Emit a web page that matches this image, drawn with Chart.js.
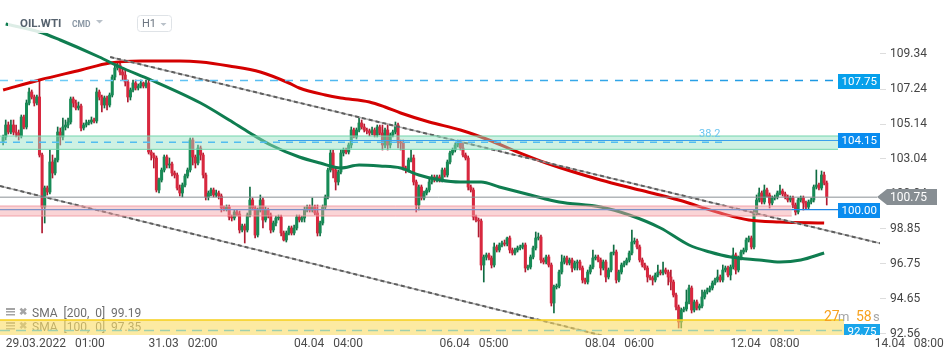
<!DOCTYPE html>
<html>
<head>
<meta charset="utf-8">
<script src="https://cdn.jsdelivr.net/npm/chart.js@4.4.1/dist/chart.umd.min.js"></script>
<style>
  html, body { margin: 0; padding: 0; background: #fff; overflow: hidden; }
</style>
</head>
<body>
<canvas id="chart" width="950" height="360"></canvas>
<script>
// OIL.WTI, H1 candles (open = previous close)
const firstOpen = 104.06;
const closes = [
  104.36,105.08,104.66,105.08,104.66,104.60,104.42,105.56,104.96,106.40,
  107.06,106.76,106.40,106.76,103.28,100.16,101.30,101.06,102.86,102.20,
  102.98,104.66,104.36,104.96,105.08,105.26,106.64,106.40,106.10,106.22,
  104.90,105.08,105.20,105.26,105.38,105.32,107.06,106.76,106.28,106.70,
  106.28,106.88,107.96,108.50,108.68,108.26,108.08,107.66,106.76,107.18,
  107.60,107.30,107.42,107.60,107.42,107.60,103.46,103.28,103.10,101.18,
  101.78,102.38,103.16,102.68,102.74,102.20,102.08,101.30,101.00,101.48,
  102.02,102.38,104.18,103.16,102.80,103.70,103.28,102.08,100.76,101.00,
  101.18,100.88,101.00,100.82,100.10,100.04,100.16,99.56,99.50,99.86,
  99.74,98.78,99.02,98.78,99.68,100.58,100.10,98.48,99.98,100.58,
  99.38,99.98,99.68,98.78,99.20,99.50,99.56,98.60,98.18,98.60,
  98.90,98.60,98.90,99.56,99.38,99.50,99.98,100.16,99.98,100.16,
  99.80,98.60,99.20,100.16,100.76,102.38,103.40,102.38,101.66,102.26,
  103.40,103.58,103.46,103.88,104.78,104.36,104.78,105.20,104.96,104.78,
  104.72,104.60,104.78,104.48,104.96,104.60,103.88,104.78,103.88,104.48,
  104.66,105.08,104.06,104.00,102.50,102.38,102.98,103.10,101.66,100.28,
  101.36,100.70,101.00,101.18,101.66,101.96,101.78,101.96,101.78,102.38,
  102.08,102.86,103.40,103.58,103.88,104.06,103.70,103.28,103.10,101.36,
  101.18,99.56,99.38,99.32,96.68,97.16,97.28,97.10,96.68,97.76,
  97.58,97.88,98.00,97.94,98.30,97.58,97.40,97.58,97.70,97.76,
  97.88,96.50,96.56,97.16,97.70,98.30,98.36,96.98,96.86,97.16,
  96.68,94.40,95.36,95.42,96.26,96.86,97.10,96.80,96.98,96.50,
  96.80,96.86,96.50,95.78,95.66,96.26,96.56,97.10,97.16,96.98,
  96.50,96.86,95.96,96.38,97.40,97.46,95.78,96.26,96.68,96.80,
  96.98,97.40,98.06,98.12,97.76,96.98,96.68,96.50,95.96,95.90,
  95.78,96.08,96.26,96.20,96.38,96.26,95.96,95.66,94.88,94.16,
  93.26,93.98,94.04,94.46,95.30,93.98,94.46,94.10,94.22,94.76,
  95.06,95.18,95.30,95.60,95.78,95.96,95.78,96.38,96.50,96.08,
  96.56,97.28,96.38,97.10,97.46,97.58,98.18,98.30,97.76,99.80,
  100.58,101.00,100.46,101.18,100.88,100.40,100.70,100.76,101.00,101.12,
  100.94,100.76,100.58,100.70,100.28,99.86,100.58,100.70,100.40,100.16,
  100.46,100.58,101.36,101.48,101.30,102.08,101.60,100.76
];
const highs = [
  104.48,105.38,105.26,105.38,105.38,105.08,104.78,105.68,105.68,106.58,
  107.30,107.18,106.88,106.88,107.78,103.40,101.42,101.42,103.58,103.28,
  103.10,104.96,104.90,105.50,105.38,105.50,106.76,106.76,106.58,106.46,
  106.34,105.20,105.38,105.38,105.56,105.50,107.30,107.18,106.88,106.82,
  106.82,107.00,108.08,108.68,108.86,108.86,108.50,108.38,107.78,107.30,
  107.78,107.78,107.54,107.78,107.66,107.78,107.78,103.58,103.40,103.22,
  101.90,102.50,103.28,103.28,103.10,102.86,102.32,102.20,101.48,101.60,
  102.14,102.50,104.30,104.30,103.28,103.88,103.82,103.40,102.20,101.12,
  101.30,101.30,101.18,101.12,100.94,100.22,100.28,100.28,99.68,99.98,
  99.98,99.92,99.14,99.14,99.80,101.36,100.70,100.22,100.10,100.88,
  100.70,100.16,100.10,99.80,99.32,99.62,99.68,99.68,98.72,98.72,
  99.02,99.02,99.08,99.68,99.68,99.62,100.16,100.28,100.28,100.70,
  100.28,100.28,99.32,100.28,100.88,102.50,103.58,103.58,102.50,102.38,
  103.58,103.70,103.70,104.00,104.96,104.90,104.90,105.56,105.38,105.14,
  104.90,104.84,104.96,104.90,105.08,105.08,105.08,104.90,105.14,104.60,
  104.78,105.26,105.20,104.18,104.18,102.62,103.10,103.58,103.28,101.78,
  101.48,101.48,101.12,101.30,101.90,102.08,102.08,102.08,102.08,102.50,
  102.50,102.98,103.52,103.70,104.00,104.18,104.18,104.06,103.40,103.22,
  101.48,101.30,99.68,99.50,99.44,97.28,97.40,97.40,97.22,98.00,
  97.88,98.00,98.12,98.18,98.36,98.42,97.70,97.70,97.82,97.88,
  98.00,98.00,96.68,97.28,97.82,98.66,98.60,98.48,97.10,97.28,
  97.28,96.80,95.48,95.54,96.38,97.28,97.22,97.22,97.10,97.10,
  96.92,96.98,96.98,96.62,95.90,96.38,96.68,97.58,97.28,97.28,
  97.10,96.98,96.98,96.50,97.46,97.88,97.58,96.38,96.80,96.92,
  97.10,97.52,98.78,98.30,98.24,97.88,97.10,96.80,96.62,96.08,
  96.02,96.20,96.68,96.38,96.86,96.50,96.38,96.38,95.78,95.00,
  94.28,94.10,94.16,95.18,95.48,95.42,94.58,94.58,94.34,95.18,
  95.18,95.30,95.42,95.72,95.90,96.38,96.08,96.68,96.62,96.62,
  96.68,97.70,97.40,97.22,97.58,97.70,98.30,98.42,98.42,99.98,
  100.88,101.30,101.12,101.48,101.30,101.00,100.82,100.88,101.12,101.48,
  101.24,101.06,100.88,100.82,100.82,100.40,100.70,100.82,100.82,100.52,
  100.58,100.70,101.48,102.38,101.60,102.32,102.26,101.72
];
const lows = [
  103.88,104.18,104.54,104.54,104.48,104.36,104.18,104.30,104.84,104.84,
  106.28,106.64,106.22,106.28,103.16,98.60,99.20,100.88,100.94,101.90,
  102.08,102.86,103.88,104.18,104.78,104.90,105.14,106.16,105.98,105.98,
  104.72,104.78,104.96,105.08,105.14,105.20,105.20,106.58,105.86,106.10,
  105.98,106.16,106.76,107.78,108.38,108.08,107.78,107.42,106.46,106.58,
  107.06,107.18,107.18,107.30,107.30,107.30,103.34,102.98,102.50,101.06,
  101.00,101.66,102.26,102.50,102.50,102.02,101.90,101.18,100.82,100.76,
  101.36,101.90,102.26,102.68,102.50,102.68,102.98,101.90,100.58,100.58,
  100.82,100.76,100.76,100.64,99.86,99.92,99.92,99.38,99.32,99.38,
  99.62,98.60,98.66,98.00,98.66,99.56,99.98,98.30,98.36,99.86,
  98.90,99.26,99.50,98.60,98.66,99.02,99.38,98.42,98.12,98.06,
  98.48,98.48,98.48,98.78,99.26,99.26,99.26,99.86,99.86,99.86,
  99.68,98.42,98.42,99.08,100.04,100.64,102.26,101.90,101.18,101.48,
  102.14,103.22,103.34,103.34,103.70,104.30,104.24,104.66,104.84,104.66,
  104.54,104.42,104.48,104.36,104.36,104.48,103.58,103.70,103.58,103.70,
  104.36,104.54,103.70,103.58,102.38,102.20,102.26,102.86,101.48,99.86,
  99.98,100.58,100.58,100.88,101.06,101.54,101.66,101.66,101.66,101.66,
  101.96,101.96,102.74,103.28,103.46,103.76,103.58,103.16,102.98,101.18,
  101.06,99.38,99.26,98.36,96.38,95.66,96.98,96.98,96.50,96.56,
  97.46,97.46,97.76,97.82,97.82,97.40,97.28,97.28,97.46,97.58,
  97.64,96.26,96.38,96.44,97.04,97.58,98.18,96.80,96.74,96.74,
  96.56,94.22,93.80,95.24,95.30,96.14,96.74,96.68,96.68,96.26,
  96.38,96.38,96.38,95.60,95.54,95.54,96.14,96.44,96.98,96.86,
  96.08,96.38,95.66,95.84,96.26,97.28,95.60,95.66,96.14,96.56,
  96.68,96.86,97.28,97.94,97.64,96.86,96.56,96.38,95.66,95.78,
  95.48,95.66,95.96,96.08,96.08,96.14,95.48,95.18,94.76,93.98,
  92.90,92.90,93.86,93.92,94.34,93.80,93.86,93.98,93.98,94.10,
  94.64,94.94,95.06,95.18,95.48,95.66,95.66,95.66,96.26,95.96,
  95.78,96.44,96.14,96.26,96.98,97.34,97.46,98.06,97.64,97.64,
  99.68,100.46,100.34,100.34,100.76,100.10,100.28,100.58,100.64,100.88,
  100.82,100.64,100.46,100.46,100.10,99.68,99.74,100.46,99.98,100.04,
  100.04,100.34,100.46,101.24,101.18,101.18,101.48,100.28
];

// moving averages, sampled along the curve (candle index -> value)
const sma100Idx = [1, 14, 22, 37, 45, 57, 76, 87, 95, 103, 114, 122, 130, 137, 145, 153, 160, 168, 176, 184, 191, 203, 214, 230, 241, 253, 264, 272, 280, 291, 299, 307, 316];
const sma100 = [111.14, 110.66, 110.18, 109.16, 108.56, 107.78, 106.40, 105.38, 104.60, 103.88, 103.16, 102.80, 102.50, 102.68, 102.62, 102.50, 102.08, 101.78, 101.66, 101.66, 101.36, 100.88, 100.46, 100.16, 99.68, 98.90, 97.88, 97.46, 97.16, 96.98, 96.86, 96.98, 97.40];
const sma200Idx = [0, 14, 30, 41, 53, 68, 76, 87, 99, 110, 114, 124, 130, 141, 147, 153, 164, 176, 187, 198, 209, 230, 245, 260, 276, 287, 299, 316];
const sma200 = [107.18, 107.78, 108.38, 108.80, 108.92, 108.92, 108.86, 108.62, 108.26, 107.60, 107.30, 106.88, 106.70, 106.46, 106.16, 105.80, 105.26, 104.78, 104.18, 103.46, 102.80, 101.78, 101.18, 100.58, 99.80, 99.38, 99.26, 99.20];

// channel lines [index, price]
const upperTrend = [[41.2, 109.16], [337.5, 97.98]];
const lowerTrend = [[-1.2, 101.42], [252.7, 91.59]];

const timeIdx = [1, 56, 112, 168, 224, 280, 335.5];
const timeLabels = ["29.03.2022   01:00", "31.03   02:00", "04.04   04:00", "06.04   05:00", "08.04   06:00", "12.04   08:00", "14.04   08:00"];
const priceTicks = [109.34, 107.24, 105.14, 103.04, 100.94, 98.85, 96.75, 94.65, 92.56];

// zones and levels
const greenZone = [103.62, 104.42];
const redZone = [99.62, 100.22];
const redZoneEnd = 303.5;
const yellowZone = [92.2, 93.38];
const resistance = 107.75;
const zoneLevel = 104.15;
const zoneLevelStart = 105.8;
const fibPrice = 104.04;
const fibEnd = 278.6;
const fibTextIdx = 272;
const fibLabel = "38.2";
const support = 100.00;
const lowLevel = 92.75;
const lastPrice = 100.75;
const smaLegend = ["SMA  [200,  0]  99.19", "SMA  [100,  0]  97.35"];
const timer = ["27", "m", "58", "s"];

Chart.defaults.font.family = "Roboto";
Chart.defaults.font.size = 12;

const opens = [firstOpen, ...closes.slice(0, -1)];
const up = closes.map((c, i) => c >= opens[i]);
const bodyColor = up.map(u => (u ? "#178b56" : "#d8283f"));
const wickColor = up.map(u => (u ? "#0f6c42" : "#b01a30"));

function hline(ctx, x1, x2, y, color, width, dash) {
  ctx.save();
  ctx.strokeStyle = color;
  ctx.lineWidth = width;
  ctx.setLineDash(dash || []);
  ctx.beginPath();
  ctx.moveTo(x1, y);
  ctx.lineTo(x2, y);
  ctx.stroke();
  ctx.restore();
}

function tagWidth(ctx, text) {
  ctx.font = "11.5px Roboto";
  return Math.round(ctx.measureText(text).width + 7);
}

function tag(ctx, text, right, y, bg) {
  const w = tagWidth(ctx, text);
  const yy = Math.round(y);
  ctx.fillStyle = bg;
  ctx.fillRect(right - w, yy - 7, w, 15);
  ctx.fillStyle = "#fff";
  ctx.textAlign = "left";
  ctx.textBaseline = "middle";
  ctx.fillText(text, right - w + 3.5, yy + 1);
}

function zone(ctx, x1, x2, yTop, yBot, fill, edge) {
  ctx.fillStyle = fill;
  ctx.fillRect(x1, yTop, x2 - x1, yBot - yTop);
  hline(ctx, x1, x2, yTop, edge, 1);
  hline(ctx, x1, x2, yBot, edge, 1);
}

function triangle(ctx, x, y, w, color) {
  ctx.fillStyle = color;
  ctx.beginPath();
  ctx.moveTo(x, y);
  ctx.lineTo(x + w, y);
  ctx.lineTo(x + w / 2, y + w / 2);
  ctx.closePath();
  ctx.fill();
}

const overlay = {
  id: "overlay",
  afterDatasetsDraw(chart) {
    const { ctx, chartArea: a, scales } = chart;
    const X = v => scales.x.getPixelForValue(v);
    const Y = v => scales.y.getPixelForValue(v);
    ctx.save();

    // indicator legend, bottom left
    smaLegend.forEach((t, i) => {
      const ly = a.bottom - 22 + i * 14;
      ctx.fillStyle = "#a4a4a4";
      ctx.fillRect(6, ly - 5, 9, 2);
      ctx.fillRect(6, ly - 2, 9, 1.5);
      ctx.fillRect(6, ly + 1, 9, 1.5);
      ctx.font = "bold 10px Roboto";
      ctx.textBaseline = "middle";
      ctx.textAlign = "left";
      ctx.fillText("\u2716", 19, ly - 1);
      ctx.fillStyle = "#6e6e6e";
      ctx.font = "12px Roboto";
      ctx.fillText(t, 32, ly + 1);
    });

    ctx.save();
    ctx.beginPath();
    ctx.rect(a.left, a.top, a.right - a.left, a.bottom - a.top);
    ctx.clip();

    const supRight = a.right - tagWidth(ctx, "100.00");
    hline(ctx, a.left, supRight, Y(support), "#1d88e6", 1.4);

    zone(ctx, a.left, X(redZoneEnd), Y(redZone[1]), Y(redZone[0]), "rgba(245,160,165,0.45)", "rgba(240,150,160,0.85)");
    const greenRight = a.right - tagWidth(ctx, "104.15");
    zone(ctx, a.left, greenRight, Y(greenZone[1]), Y(greenZone[0]), "rgba(150,225,195,0.47)", "rgba(110,212,170,0.95)");
    const lowRight = a.right - tagWidth(ctx, "92.75");
    ctx.fillStyle = "rgba(250,220,100,0.6)";
    ctx.fillRect(a.left, Y(yellowZone[1]), lowRight - a.left, Y(yellowZone[0]) - Y(yellowZone[1]));
    hline(ctx, a.left, lowRight, Y(yellowZone[1]), "#f6cf1a", 1.5);

    // resistance dashed line, lighter on the left
    const resRight = a.right - tagWidth(ctx, "107.75");
    const grad = ctx.createLinearGradient(a.left, 0, resRight, 0);
    grad.addColorStop(0, "#74cff8");
    grad.addColorStop(1, "#1a97e2");
    hline(ctx, a.left, resRight, Y(resistance), grad, 1.6, [8, 7]);

    hline(ctx, a.left, X(fibEnd), Y(fibPrice), "#52bdf0", 1.5, [7, 6]);
    hline(ctx, X(zoneLevelStart), greenRight, Y(zoneLevel), "#3a9fec", 1);
    hline(ctx, a.left, a.right - 3, Y(lastPrice), "#8a9095", 1);
    hline(ctx, a.left, lowRight, Y(lowLevel), "#9fcfae", 1.5, [10, 6]);

    ctx.fillStyle = "#6cc5f0";
    ctx.font = "11px Roboto";
    ctx.textAlign = "center";
    ctx.textBaseline = "alphabetic";
    ctx.fillText(fibLabel, X(fibTextIdx), Y(greenZone[1]) + 1);

    tag(ctx, resistance.toFixed(2), a.right, Y(resistance), "#06a0eb");
    tag(ctx, zoneLevel.toFixed(2), a.right, Y(zoneLevel), "#0a8cef");
    tag(ctx, support.toFixed(2), a.right, Y(support), "#0a8cef");
    tag(ctx, lowLevel.toFixed(2), a.right, Y(lowLevel), "#19a5ea");
    ctx.restore();

    // last price arrow over the axis
    const yp = Math.round(Y(lastPrice));
    ctx.fillStyle = "#878e93";
    ctx.beginPath();
    ctx.moveTo(a.right - 3, yp);
    ctx.lineTo(a.right + 7, yp - 8);
    ctx.lineTo(a.right + 57, yp - 8);
    ctx.lineTo(a.right + 57, yp + 8);
    ctx.lineTo(a.right + 7, yp + 8);
    ctx.closePath();
    ctx.fill();
    ctx.fillStyle = "#fff";
    ctx.font = "12px Roboto";
    ctx.textAlign = "left";
    ctx.textBaseline = "middle";
    ctx.fillText(lastPrice.toFixed(2), a.right + 10, yp + 1);

    // candle countdown
    ctx.textBaseline = "alphabetic";
    const tx = [a.right - 56, a.right - 42, a.right - 24, a.right - 7];
    timer.forEach((t, i) => {
      ctx.fillStyle = i % 2 === 0 ? "#f7a11c" : "#a6a6a6";
      ctx.font = i % 2 === 0 ? "14px Roboto" : "13px Roboto";
      ctx.fillText(t, tx[i], Y(yellowZone[1]) + 1);
    });

    // header
    ctx.fillStyle = "rgba(255,255,255,0.86)";
    ctx.fillRect(8, 8, 170, 25);
    ctx.fillStyle = "#56626e";
    ctx.font = "bold 11.5px Roboto";
    ctx.fillText("OIL.WTI", 20, 27);
    ctx.fillStyle = "#8a97a4";
    ctx.font = "bold 8.5px Roboto";
    ctx.fillText("CMD", 72, 27);
    triangle(ctx, 96, 20, 7, "#b9c1c9");
    ctx.fillStyle = "#fff";
    ctx.strokeStyle = "#dfe3e7";
    ctx.lineWidth = 1;
    ctx.beginPath();
    ctx.roundRect(137.5, 15.5, 34, 16, 3);
    ctx.fill();
    ctx.stroke();
    ctx.fillStyle = "#6b7580";
    ctx.font = "11px Roboto";
    ctx.fillText("H1", 142, 27);
    triangle(ctx, 160.5, 23, 6, "#b9c1c9");

    ctx.restore();
  }
};

new Chart(document.getElementById("chart"), {
  type: "bar",
  data: {
    datasets: [
      {
        type: "line",
        data: upperTrend.map(p => ({ x: p[0], y: p[1] })),
        borderColor: "#5e5e5e",
        borderWidth: 2,
        borderDash: [4, 3],
        pointRadius: 0,
        clip: 0,
        order: 0
      },
      {
        type: "line",
        data: lowerTrend.map(p => ({ x: p[0], y: p[1] })),
        borderColor: "#5e5e5e",
        borderWidth: 2,
        borderDash: [4, 3],
        pointRadius: 0,
        clip: 0,
        order: 0
      },
      {
        type: "line",
        data: upperTrend.map(p => ({ x: p[0], y: p[1] })),
        borderColor: "rgba(170,170,170,0.9)",
        borderWidth: 1.5,
        pointRadius: 0,
        clip: 0,
        order: 1
      },
      {
        type: "line",
        data: lowerTrend.map(p => ({ x: p[0], y: p[1] })),
        borderColor: "rgba(170,170,170,0.9)",
        borderWidth: 1.5,
        pointRadius: 0,
        clip: 0,
        order: 1
      },
      {
        type: "line",
        data: sma100Idx.map((x, i) => ({ x, y: sma100[i] })),
        borderColor: "#0f7d50",
        borderWidth: 3,
        cubicInterpolationMode: "monotone",
        pointRadius: 0,
        order: 2
      },
      {
        type: "line",
        data: sma200Idx.map((x, i) => ({ x, y: sma200[i] })),
        borderColor: "#d40000",
        borderWidth: 3,
        cubicInterpolationMode: "monotone",
        pointRadius: 0,
        order: 3
      },
      {
        data: closes.map((c, i) => ({ x: i, y: [opens[i], c] })),
        backgroundColor: bodyColor,
        barThickness: 2.4,
        minBarLength: 1,
        grouped: false,
        order: 5
      },
      {
        data: closes.map((c, i) => ({ x: i, y: [lows[i], highs[i]] })),
        backgroundColor: wickColor,
        barThickness: 1,
        grouped: false,
        order: 6
      }
    ]
  },
  options: {
    responsive: false,
    animation: false,
    devicePixelRatio: 1,
    layout: { padding: 0 },
    plugins: { legend: { display: false }, tooltip: { enabled: false } },
    scales: {
      x: {
        type: "linear",
        min: -1.2,
        max: 337.5,
        offset: false,
        grid: { display: false },
        border: { display: false },
        afterBuildTicks: s => { s.ticks = timeIdx.map(v => ({ value: v })); },
        afterFit: s => { s.height = 25; s.paddingLeft = 0; s.paddingRight = 0; },
        ticks: {
          autoSkip: false,
          maxRotation: 0,
          align: "start",
          padding: -6,
          color: "#4a4a4a",
          font: { size: 12 },
          callback: (v, i) => timeLabels[i]
        }
      },
      y: {
        position: "right",
        min: 92.48,
        max: 112.58,
        grid: { drawOnChartArea: false, drawTicks: true, tickLength: 6, tickColor: "#dddddd" },
        border: { display: false },
        afterBuildTicks: s => { s.ticks = priceTicks.map(v => ({ value: v })); },
        afterFit: s => { s.width = 70; s.paddingTop = 0; s.paddingBottom = 0; },
        ticks: {
          padding: 4,
          color: "#444",
          font: { size: 12 },
          callback: v => v.toFixed(2)
        }
      }
    }
  },
  plugins: [overlay]
});
</script>
</body>
</html>
